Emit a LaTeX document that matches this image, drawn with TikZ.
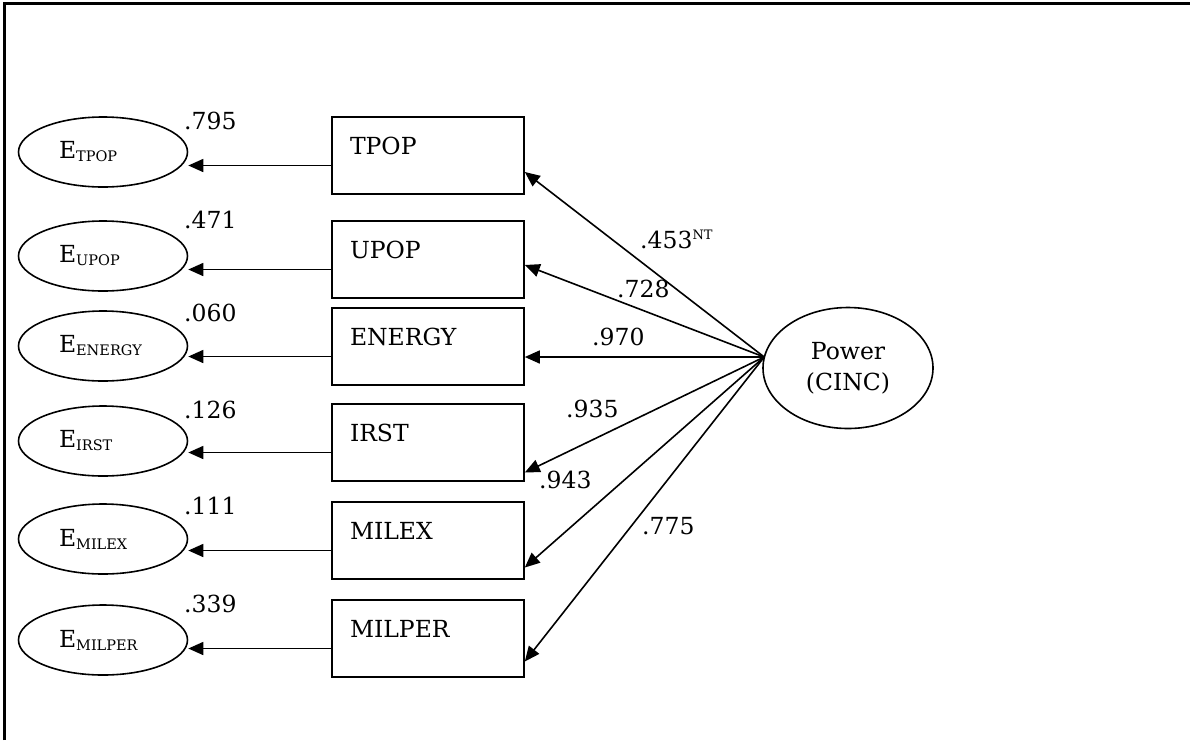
\documentclass[tikz,border=0pt]{standalone}
\usepackage{fontspec}
\setmainfont{DejaVu Serif}
\usetikzlibrary{arrows.meta,shapes.geometric}
\tikzset{
  obsbox/.style={draw, line width=1.6pt, rectangle, minimum width=192pt, minimum height=77pt,
    text width=156pt, inner xsep=18pt, inner ysep=0pt, align=left,
    text height=17pt, text depth=19pt, font=\fontsize{23.5}{27}\selectfont},
  errell/.style={draw, line width=1.6pt, ellipse, minimum width=169pt, minimum height=70pt,
    inner sep=0pt, text width=88pt, align=left, font=\fontsize{23.5}{27}\selectfont},
  latell/.style={draw, line width=1.6pt, ellipse, minimum width=170pt, minimum height=121pt,
    inner sep=0pt, align=center, font=\fontsize{23.5}{31}\selectfont},
  arr/.style={line width=1.6pt, -{Triangle[length=15pt,width=13pt]}},
  lbl/.style={font=\fontsize{23.5}{27}\selectfont, inner sep=0pt, anchor=base west},
  frame/.style={line width=2.6pt},
}
\newcommand{\esub}[1]{E\raisebox{-3pt}{\fontsize{14.5}{15}\selectfont #1}}
\begin{document}
\begin{tikzpicture}[x=1pt,y=-1pt]
\useasboundingbox (0,0) rectangle (1190,740);
% frame (top and left edges)
\coordinate (f0) at (4.5,740);
\coordinate (f1) at (4.5,3.5);
\coordinate (f2) at (1190,3.5);
\draw[frame] (f0) -- (f1) -- (f2);

% observed variables
\node[obsbox] (tpop)   at (428,155.5) {TPOP};
\node[obsbox] (upop)   at (428,259.5) {UPOP};
\node[obsbox] (energy) at (428,346.5) {ENERGY};
\node[obsbox] (irst)   at (428,442.5) {IRST};
\node[obsbox] (milex)  at (428,540.5) {MILEX};
\node[obsbox] (milper) at (428,638.5) {MILPER};

% error terms
\node[errell] (etpop)   at (103,152) {\esub{TPOP}};
\node[errell] (eupop)   at (103,256) {\esub{UPOP}};
\node[errell] (eenergy) at (103,346) {\esub{ENERGY}};
\node[errell] (eirst)   at (103,441) {\esub{IRST}};
\node[errell] (emilex)  at (103,539) {\esub{MILEX}};
\node[errell] (emilper) at (103,640) {\esub{MILPER}};

% latent variable
\node[latell] (power) at (848,368) {Power\\(CINC)};
\coordinate (pc) at ([xshift=2pt,yshift=11pt]power.west);

% arrows to error terms
\draw[arr] ([yshift=-10pt]tpop.west)   -- ([yshift=-10pt]tpop.west -| etpop.east);
\draw[arr] ([yshift=-10pt]upop.west)   -- ([yshift=-10pt]upop.west -| eupop.east);
\draw[arr] ([yshift=-10pt]energy.west) -- ([yshift=-10pt]energy.west -| eenergy.east);
\draw[arr] ([yshift=-10pt]irst.west)   -- ([yshift=-10pt]irst.west -| eirst.east);
\draw[arr] ([yshift=-10pt]milex.west)  -- ([yshift=-10pt]milex.west -| emilex.east);
\draw[arr] ([yshift=-10pt]milper.west) -- ([yshift=-10pt]milper.west -| emilper.east);

% loadings
\draw[arr] (pc) -- ([yshift=-16.5pt]tpop.east);
\draw[arr] (pc) -- ([yshift=-5.5pt]upop.east);
\draw[arr] (pc) -- (pc -| energy.east);
\draw[arr] (pc) -- ([yshift=-30pt]irst.east);
\draw[arr] (pc) -- ([yshift=-27pt]milex.east);
\draw[arr] (pc) -- ([yshift=-23pt]milper.east);

% loading labels
\node[lbl] (l1) at (640,248) {.453\raisebox{9pt}{\fontsize{13}{13}\selectfont NT}};
\node[lbl] (l2) at (617,297) {.728};
\node[lbl] (l3) at (592,345) {.970};
\node[lbl] (l4) at (566,417) {.935};
\node[lbl] (l5) at (539,488) {.943};
\node[lbl] (l6) at (642,534) {.775};

% error variance labels
\node[lbl] (v1) at (184,129) {.795};
\node[lbl] (v2) at (184,228) {.471};
\node[lbl] (v3) at (184,321) {.060};
\node[lbl] (v4) at (184,418) {.126};
\node[lbl] (v5) at (184,514) {.111};
\node[lbl] (v6) at (184,612) {.339};
\end{tikzpicture}
\end{document}
